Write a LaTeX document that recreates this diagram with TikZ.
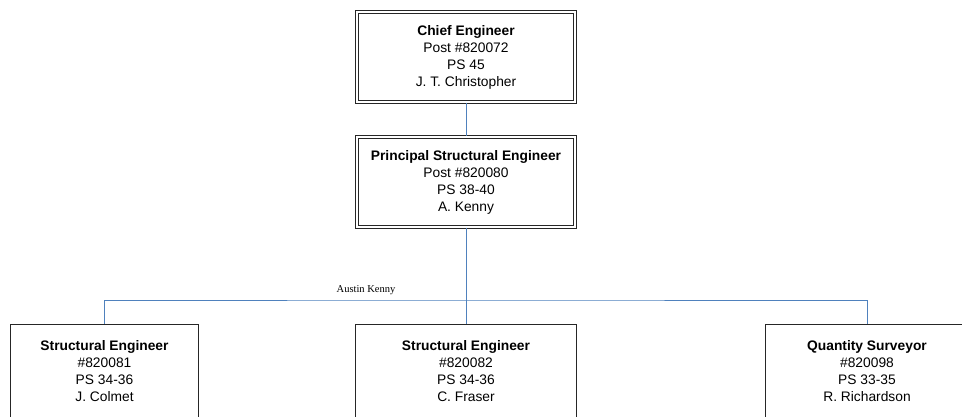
\documentclass[tikz,border=0pt]{standalone}
\usepackage{fontspec}
\setmainfont{Liberation Sans}
\newfontfamily\serifnote{Liberation Serif}
\begin{document}
\begin{tikzpicture}[x=1pt,y=-1pt,
  dblbox/.style={draw=black!85, double=white, double distance=1.8pt, line width=1.1pt,
    minimum width=218pt, minimum height=90pt, inner sep=0pt, align=center,
    font=\fontsize{13.8}{17}\selectfont},
  sglbox/.style={draw=black!85, line width=1.3pt, minimum height=93pt, inner sep=0pt,
    align=center, font=\fontsize{13.8}{17}\selectfont},
  conn/.style={line width=0.9pt, draw={rgb,255:red,79;green,129;blue,189}},
  note/.style={font=\serifnote\fontsize{10.5}{12}\selectfont, inner sep=0pt}]
\useasboundingbox (0,0) rectangle (962,417);
\clip (0,0) rectangle (962,417);
\node[dblbox] (ce) at (466,57) {\textbf{Chief Engineer}\\Post \#820072\\PS 45\\J. T. Christopher};
\node[dblbox] (pse) at (466,182) {\textbf{Principal Structural Engineer}\\Post \#820080\\PS 38-40\\A. Kenny};
\node[sglbox, minimum width=188pt] (se1) at (104.5,371) {\textbf{Structural Engineer}\\\#820081\\PS 34-36\\J. Colmet};
\node[sglbox, minimum width=221pt] (se2) at (466,371) {\textbf{Structural Engineer}\\\#820082\\PS 34-36\\C. Fraser};
\node[sglbox, minimum width=203pt] (qs) at (867,371) {\textbf{Quantity Surveyor}\\\#820098\\PS 33-35\\R. Richardson};
\coordinate (bus) at (466,300);
\draw[conn] (ce.south) -- (pse.north);
\draw[conn] (pse.south) -- (se2.north);
\draw[conn] (se1.north) |- (bus) -| (qs.north);
\node[note] (ak) at (366,290) {Austin Kenny};
\end{tikzpicture}
\end{document}
